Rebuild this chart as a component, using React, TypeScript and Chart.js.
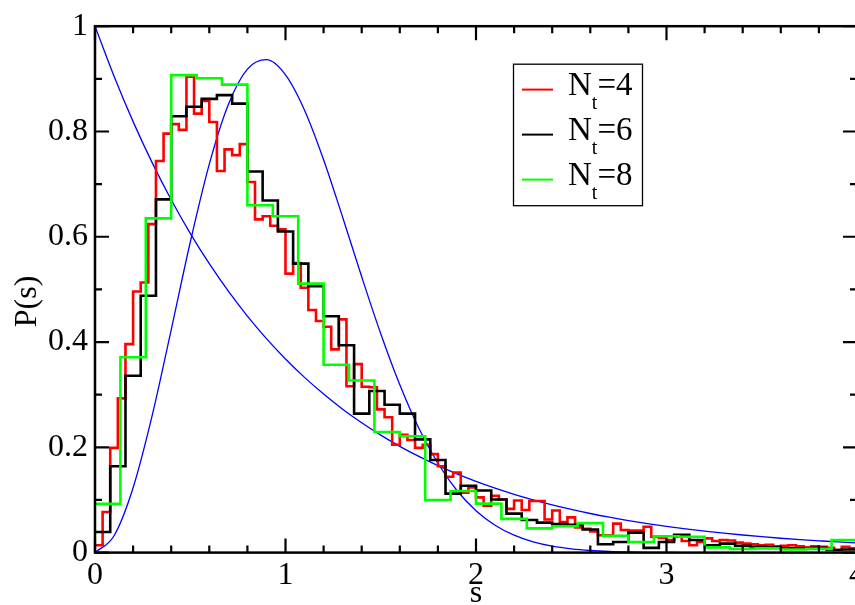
import React, { useEffect, useRef } from 'react';
import { Chart, registerables } from 'chart.js';

Chart.register(...registerables);

// ---------------- data ----------------
const S_MAX = 4;
const NT4_BIN = 0.04;
const NT6_BIN = 0.08;
const NT8_BIN = 4 / 30;

// N_t = 4 histogram (red), 100 bins of width 0.04
const NT4_VALUES = [
  0.014, 0.077, 0.199, 0.293, 0.396, 0.496, 0.513, 0.624, 0.744, 0.796,
  0.814, 0.803, 0.904, 0.834, 0.858, 0.818, 0.725, 0.766, 0.755, 0.776,
  0.704, 0.633, 0.639, 0.621, 0.614, 0.530, 0.550, 0.503, 0.461, 0.440,
  0.429, 0.386, 0.443, 0.316, 0.358, 0.315, 0.314, 0.272, 0.257, 0.205,
  0.224, 0.214, 0.199, 0.205, 0.187, 0.164, 0.144, 0.152, 0.114, 0.124,
  0.105, 0.089, 0.108, 0.101, 0.083, 0.099, 0.081, 0.098, 0.098, 0.063,
  0.080, 0.058, 0.067, 0.048, 0.045, 0.040, 0.033, 0.033, 0.055, 0.043,
  0.042, 0.042, 0.049, 0.030, 0.028, 0.024, 0.030, 0.022, 0.014, 0.020,
  0.027, 0.022, 0.024, 0.023, 0.019, 0.017, 0.016, 0.014, 0.015, 0.012,
  0.013, 0.014, 0.012, 0.010, 0.012, 0.011, 0.009, 0.005, 0.011, 0.008,
];

// N_t = 6 histogram (black), 50 bins of width 0.08
const NT6_VALUES = [
  0.039, 0.164, 0.336, 0.488, 0.671, 0.829, 0.847, 0.862, 0.869, 0.853,
  0.724, 0.669, 0.610, 0.549, 0.506, 0.449, 0.394, 0.264, 0.307, 0.281,
  0.264, 0.215, 0.176, 0.112, 0.127, 0.118, 0.101, 0.074, 0.062, 0.057,
  0.054, 0.053, 0.044, 0.016, 0.020, 0.038, 0.009, 0.020, 0.034, 0.024,
  0.014, 0.017, 0.013, 0.011, 0.010, 0.008, 0.008, 0.009, 0.005, 0.006,
];

// N_t = 8 histogram (green), 30 bins of width 2/15
const NT8_VALUES = [
  0.0925, 0.371, 0.635, 0.907, 0.901, 0.889, 0.660, 0.639, 0.511, 0.357,
  0.327, 0.229, 0.221, 0.100, 0.117, 0.093, 0.064, 0.046, 0.050, 0.056,
  0.032, 0.020, 0.031, 0.030, 0.010, 0.007, 0.008, 0.006, 0.007, 0.024,
];

// reference curves (blue)
const CURVE_S = [
  0, 0.1, 0.2, 0.3, 0.4, 0.5, 0.6, 0.7, 0.8, 0.9, 1.0,
  1.1, 1.2, 1.3, 1.4, 1.5, 1.6, 1.7, 1.8, 1.9, 2.0,
  2.1, 2.2, 2.3, 2.4, 2.5, 2.6, 2.7, 2.8, 2.9, 3.0,
  3.1, 3.2, 3.3, 3.4, 3.5, 3.6, 3.7, 3.8, 3.9, 4.0,
];
const POISSON_VALUES = [
  1, 0.9048, 0.8187, 0.7408, 0.6703, 0.6065, 0.5488, 0.4966, 0.4493, 0.4066, 0.3679,
  0.3329, 0.3012, 0.2725, 0.2466, 0.2231, 0.2019, 0.1827, 0.1653, 0.1496, 0.1353,
  0.1225, 0.1108, 0.1003, 0.0907, 0.0821, 0.0743, 0.0672, 0.0608, 0.0550, 0.0498,
  0.0450, 0.0408, 0.0369, 0.0334, 0.0302, 0.0273, 0.0247, 0.0224, 0.0202, 0.0183,
];
const GUE_VALUES = [
  0, 0.0320, 0.1233, 0.2602, 0.4232, 0.5896, 0.7381, 0.8514, 0.9186, 0.9364, 0.9076,
  0.8405, 0.7464, 0.6371, 0.5240, 0.4158, 0.3188, 0.2363, 0.1697, 0.1180, 0.0796,
  0.0521, 0.0331, 0.0204, 0.0122, 0.0071, 0.0040, 0.0022, 0.0012, 0.0006, 0.0003,
  0.0001, 0.0001, 0, 0, 0, 0, 0, 0, 0, 0,
];

const X_TICK_LABELS = ['0', '1', '2', '3', '4'];
const Y_TICK_LABELS = ['0', '0.2', '0.4', '0.6', '0.8', '1'];
const X_TITLE = 's';
const Y_TITLE = 'P(s)';
const LEGEND_NT = ['4', '6', '8'];
const LEGEND_COLORS = ['#ff0000', '#000000', '#00ff00'];

// ---------------- helpers ----------------
function histPoints(values: number[], width: number) {
  const pts = values.map((v, i) => ({ x: i * width, y: v }));
  pts.push({ x: values.length * width, y: values[values.length - 1] });
  return pts;
}
function curvePoints(xs: number[], ys: number[]) {
  return xs.map((x, i) => ({ x, y: ys[i] }));
}

const FONT_FAMILY = "'Liberation Serif'";

const framePlugin = {
  id: 'frameTicks',
  afterDatasetsDraw(chart: any) {
    const { ctx, chartArea: a, scales } = chart;
    const xs = scales.x;
    const ys = scales.y;
    ctx.save();
    ctx.strokeStyle = '#000';
    ctx.lineWidth = 2.2;
    ctx.lineCap = 'butt';
    ctx.beginPath();
    for (let i = 0; i <= 20; i++) {
      const px = xs.getPixelForValue(i * 0.2);
      const len = i % 5 === 0 ? 14 : 7;
      ctx.moveTo(px, a.bottom);
      ctx.lineTo(px, a.bottom - len);
      ctx.moveTo(px, a.top);
      ctx.lineTo(px, a.top + len);
    }
    for (let i = 0; i <= 10; i++) {
      const py = ys.getPixelForValue(i * 0.1);
      const len = i % 2 === 0 ? 14 : 7;
      ctx.moveTo(a.left, py);
      ctx.lineTo(a.left + len, py);
      ctx.moveTo(a.right, py);
      ctx.lineTo(a.right - len, py);
    }
    ctx.stroke();
    ctx.lineWidth = 2.5;
    ctx.strokeRect(a.left, a.top, a.right - a.left, a.bottom - a.top);
    ctx.restore();
  },
};

const yTitlePlugin = {
  id: 'yTitle',
  afterDraw(chart: any) {
    const { ctx, chartArea: a } = chart;
    ctx.save();
    ctx.translate(28, (a.top + a.bottom) / 2 + 12);
    ctx.rotate(-Math.PI / 2);
    ctx.font = '32px ' + FONT_FAMILY;
    ctx.fillStyle = '#000';
    ctx.textAlign = 'center';
    ctx.textBaseline = 'middle';
    ctx.fillText(Y_TITLE, 0, 0);
    ctx.restore();
  },
};

const legendPlugin = {
  id: 'ntLegend',
  afterDraw(chart: any) {
    const { ctx, chartArea: a } = chart;
    const bx = a.left + 418.5;
    const by = a.top + 38;
    const bw = 129;
    const bh = 141.5;
    ctx.save();
    ctx.fillStyle = '#fff';
    ctx.fillRect(bx, by, bw, bh);
    ctx.strokeStyle = '#000';
    ctx.lineWidth = 1.3;
    ctx.strokeRect(bx, by, bw, bh);
    LEGEND_NT.forEach((nt, i) => {
      const ly = by + 25.4 + i * 45;
      ctx.strokeStyle = LEGEND_COLORS[i];
      ctx.lineWidth = 2;
      ctx.beginPath();
      ctx.moveTo(bx + 8.5, ly);
      ctx.lineTo(bx + 39.5, ly);
      ctx.stroke();
      ctx.fillStyle = '#000';
      ctx.textBaseline = 'alphabetic';
      ctx.textAlign = 'left';
      let tx = bx + 54.5;
      const base = ly + 5.6;
      ctx.font = '33px ' + FONT_FAMILY;
      ctx.fillText('N', tx, base);
      tx += ctx.measureText('N').width;
      ctx.font = '20px ' + FONT_FAMILY;
      ctx.fillText('t', tx, base + 13.4);
      tx += ctx.measureText('t').width;
      ctx.font = '33px ' + FONT_FAMILY;
      ctx.fillText('=' + nt, tx, base);
    });
    ctx.restore();
  },
};

export default function App() {
  const ref = useRef<HTMLCanvasElement>(null);

  useEffect(() => {
    const canvas = ref.current;
    if (!canvas) return;
    const W = 870;
    const H = 605;
    Chart.defaults.font.family = FONT_FAMILY;
    const chart = new Chart(canvas, {
      type: 'line',
      data: {
        datasets: [
          {
            label: 'N_t=8',
            data: histPoints(NT8_VALUES, NT8_BIN),
            borderColor: '#00ff00',
            borderWidth: 2.6,
            stepped: 'before',
            pointRadius: 0,
            fill: false,
            order: 1,
          },
          {
            label: 'N_t=6',
            data: histPoints(NT6_VALUES, NT6_BIN),
            borderColor: '#000000',
            borderWidth: 2.6,
            stepped: 'before',
            pointRadius: 0,
            fill: false,
            order: 2,
          },
          {
            label: 'N_t=4',
            data: histPoints(NT4_VALUES, NT4_BIN),
            borderColor: '#ff0000',
            borderWidth: 2.6,
            stepped: 'before',
            pointRadius: 0,
            fill: false,
            order: 3,
          },
          {
            label: 'Poisson',
            data: curvePoints(CURVE_S, POISSON_VALUES),
            borderColor: '#0000ff',
            borderWidth: 1.3,
            cubicInterpolationMode: 'monotone',
            pointRadius: 0,
            fill: false,
            order: 4,
          },
          {
            label: 'GUE',
            data: curvePoints(CURVE_S, GUE_VALUES),
            borderColor: '#0000ff',
            borderWidth: 1.3,
            cubicInterpolationMode: 'monotone',
            pointRadius: 0,
            fill: false,
            order: 5,
          },
        ],
      },
      options: {
        animation: false,
        responsive: false,
        devicePixelRatio: 1,
        events: [],
        layout: { padding: { top: 19.3, right: W - 857, left: 0, bottom: 0 } },
        plugins: {
          legend: { display: false },
          tooltip: { enabled: false },
        },
        scales: {
          x: {
            type: 'linear',
            min: 0,
            max: S_MAX,
            afterFit: (scale: any) => {
              scale.height = H - 552.6;
            },
            grid: { display: false, drawTicks: false },
            border: { display: false },
            ticks: {
              stepSize: 1,
              autoSkip: false,
              maxRotation: 0,
              padding: 4,
              color: '#000',
              font: { family: FONT_FAMILY, size: 32 },
              callback: (_v: any, i: number) => X_TICK_LABELS[i],
            },
            title: {
              display: true,
              text: X_TITLE,
              color: '#000',
              font: { family: FONT_FAMILY, size: 32, lineHeight: 1 },
              padding: { top: 0, bottom: -5 },
            },
          },
          y: {
            type: 'linear',
            min: 0,
            max: 1,
            afterFit: (scale: any) => {
              scale.width = 95;
            },
            grid: { display: false, drawTicks: false },
            border: { display: false },
            ticks: {
              stepSize: 0.2,
              autoSkip: false,
              padding: 7,
              color: '#000',
              font: { family: FONT_FAMILY, size: 32 },
              callback: (_v: any, i: number) => Y_TICK_LABELS[i],
            },
            title: { display: false },
          },
        },
      },
      plugins: [framePlugin, yTitlePlugin, legendPlugin],
    } as any);
    return () => chart.destroy();
  }, []);

  return (
    <div
      style={{
        position: 'fixed',
        left: 0,
        top: 0,
        width: 855,
        height: 605,
        overflow: 'hidden',
        background: '#fff',
      }}
    >
      <canvas ref={ref} width={870} height={605} style={{ display: 'block', width: 870, height: 605 }} />
    </div>
  );
}
